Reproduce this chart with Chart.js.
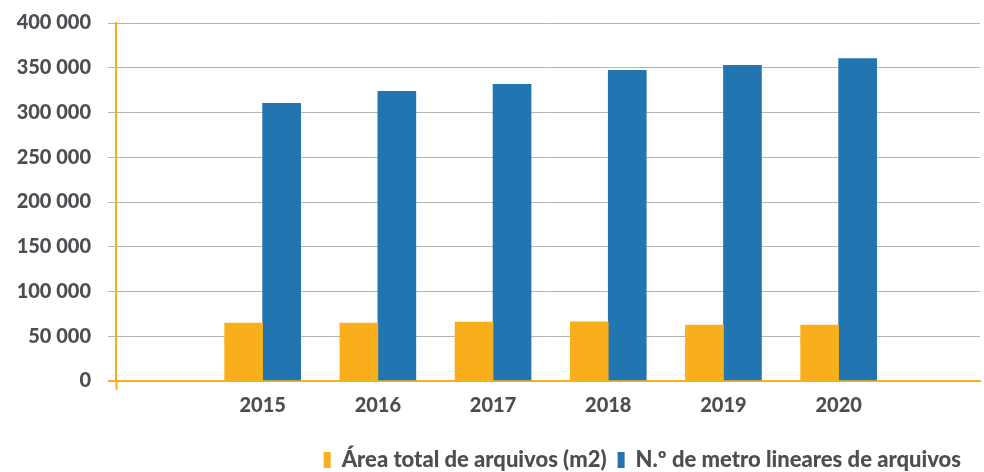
<!DOCTYPE html>
<html>
<head>
<meta charset="utf-8">
<script src="https://cdn.jsdelivr.net/npm/chart.js@4/dist/chart.umd.min.js"></script>
<style>
  html, body { margin: 0; padding: 0; background: #fff; }
  #wrap { width: 984px; height: 472px; }
</style>
</head>
<body>
<div id="wrap"><canvas id="arquivos"></canvas></div>
<script>
// anos e valores
const anos = ["2015", "2016", "2017", "2018", "2019", "2020"];
const areaTotal = [64800, 64800, 65900, 66200, 62600, 62600];
const metrosLineares = [310300, 323700, 331500, 347000, 352600, 360300];
const yTicks = [0, 50000, 100000, 150000, 200000, 250000, 300000, 350000, 400000];

const laranja = "#F9AE1B";
const azul = "#2175B0";
const cinzaTexto = "#4B4E52";
const cinzaGrelha = "#B4B4B4";

// eixo x numerico para deixar espaco vazio antes de 2015 e depois de 2020
const xMin = -1.273;
const xMax = 6.227;

const fonte = { family: "Lato", weight: "900", size: 20 };
// lineHeight curto para o eixo y nao empurrar o topo da area do grafico
const fonteY = { family: "Lato", weight: "900", size: 20, lineHeight: 0.6 };
const fonteLegenda = { family: "Lato", weight: "900", size: 22 };

function pontos(valores) {
  return valores.map((v, i) => ({ x: i, y: v }));
}

// empurra a legenda um pouco para baixo e para a esquerda
const moverLegenda = {
  id: "moverLegenda",
  afterLayout(chart) {
    const lg = chart.legend;
    if (!lg) return;
    lg.top += 9; lg.bottom += 9;
    lg.left -= 12; lg.right -= 12;
  },
};

window.onload = function () {
  const ctx = document.getElementById("arquivos").getContext("2d");
  new Chart(ctx, {
    type: "bar",
    data: {
      datasets: [
        {
          label: "Área total de arquivos (m2)",
          data: pontos(areaTotal),
          backgroundColor: laranja,
          barThickness: 38,
        },
        {
          label: "N.º de metro lineares de arquivos",
          data: pontos(metrosLineares),
          backgroundColor: azul,
          barThickness: 38,
        },
      ],
    },
    plugins: [moverLegenda],
    options: {
      responsive: true,
      maintainAspectRatio: false,
      animation: false,
      layout: { padding: { top: 23, right: 0, bottom: 0, left: 0 } },
      plugins: {
        tooltip: { enabled: false },
        legend: {
          position: "bottom",
          align: "end",
          labels: {
            boxWidth: 7,
            boxHeight: 16,
            padding: 11,
            color: cinzaTexto,
            font: fonteLegenda,
          },
        },
      },
      scales: {
        x: {
          type: "linear",
          min: xMin,
          max: xMax,
          offset: false,
          afterFit: function (scale) { scale.height = 48; },
          ticks: {
            stepSize: 1,
            includeBounds: true,
            autoSkip: false,
            maxRotation: 0,
            padding: 4,
            color: cinzaTexto,
            font: fonte,
            callback: function (v) {
              return Number.isInteger(v) && v >= 0 && v < anos.length ? anos[v] : "";
            },
          },
          grid: {
            offset: false,
            drawOnChartArea: false,
            drawTicks: true,
            tickLength: 9,
            tickWidth: 2,
            tickColor: function (c) {
              return c.tick && c.tick.value === xMin ? laranja : "transparent";
            },
          },
          border: { color: laranja, width: 2 },
        },
        y: {
          min: 0,
          max: 400000,
          afterFit: function (scale) { scale.width = 116; },
          afterBuildTicks: function (scale) {
            scale.ticks = yTicks.map((v) => ({ value: v }));
          },
          ticks: {
            padding: 17,
            color: cinzaTexto,
            font: fonteY,
            callback: function (v) {
              return v.toLocaleString("pt-PT").replace(/\s|\u00a0|\./g, " ");
            },
          },
          grid: {
            tickLength: 8,
            color: function (c) {
              return c.tick && c.tick.value === 0 ? laranja : cinzaGrelha;
            },
            lineWidth: function (c) {
              return c.tick && c.tick.value === 0 ? 2 : 1;
            },
          },
          border: { color: laranja, width: 2 },
        },
      },
    },
  });
};
</script>
</body>
</html>
